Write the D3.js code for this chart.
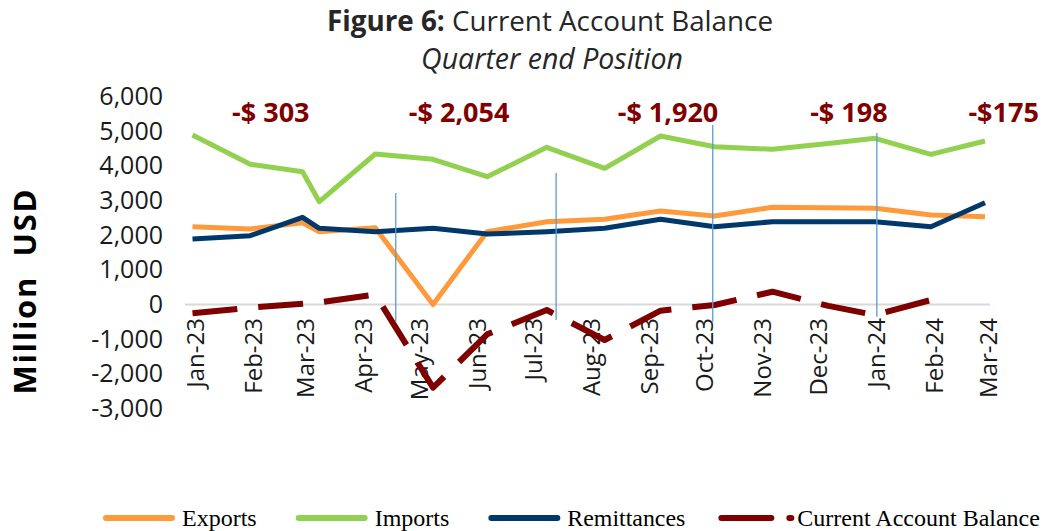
<!DOCTYPE html>
<html><head><meta charset="utf-8">
<script src="https://cdn.jsdelivr.net/npm/d3@7"></script>
<style>
html,body{margin:0;padding:0;background:#fff;}
svg{display:block;}
</style></head>
<body>
<svg id="chart" width="1047" height="531"></svg>
<script>
// ---------- data ----------
const dates = ["2023-01-01","2023-02-01","2023-03-01","2023-03-10","2023-04-09","2023-05-10","2023-06-08","2023-07-10","2023-08-10","2023-09-09","2023-10-08","2023-11-08","2023-12-08","2024-01-02","2024-02-01","2024-03-01"];
const exportsVals     = [2244, 2178, 2359, 2100, 2215,    0, 2100, 2388, 2457, 2697, 2553, 2804, 2792, 2775, 2581, 2533];
const importsVals     = [4889, 4044, 3830, 2965, 4341, 4188, 3686, 4534, 3928, 4860, 4551, 4477, 4644, 4794, 4332, 4716];
const remittanceVals  = [1889, 1984, 2515, 2198, 2100, 2198, 2033, 2100, 2198, 2457, 2244, 2388, 2388, 2388, 2244, 2936];
const cabVals         = [-254,  -92,   23,   63,  288, -2400, -860, -159, -1024, -179, -14,  369,  -40, -303,  130, null];
const seriesNames = ["Exports","Imports","Remittances","Current Account Balance"];
const yTicks = [6000,5000,4000,3000,2000,1000,0,-1000,-2000,-3000];
const quarterLabels = ["-$ 303","-$ 2,054","-$ 1,920","-$ 198","-$175"];
const quarterLabelDates = ["2023-02-12","2023-05-24","2023-09-13","2023-12-19","2024-03-11"];
const separatorDates = ["2023-04-20","2023-07-15","2023-10-07","2024-01-03"];
const separatorTop = [3216, 3793, 5178, 4946];
const separatorBottom = [-500, -450, -500, -350];

// ---------- setup ----------
const parse = d3.utcParse("%Y-%m-%d");
const svg = d3.select("#chart");
const x = d3.scaleUtc().domain([parse("2023-01-01"), parse("2024-03-01")]).range([192.5, 985]);
const y = d3.scaleLinear().domain([-3000, 6000]).range([408.5, 96.5]);

const colors = {Exports:"#FF9A3C", Imports:"#92D050", Remittances:"#00386B", CAB:"#7F0000"};
const axisFont = "'Open Sans', 'Noto Sans', sans-serif";

// title
const title = svg.append("text").attr("x", 550).attr("y", 31).attr("text-anchor","middle")
  .style("font-family", axisFont).style("font-size","27.8px").attr("fill","#262626");
title.append("tspan").attr("font-weight","bold").text("Figure 6:");
title.append("tspan").text(" Current Account Balance");
svg.append("text").attr("x", 552).attr("y", 69).attr("text-anchor","middle")
  .style("font-family", axisFont).style("font-size","28.5px").style("font-style","italic")
  .attr("fill","#262626").text("Quarter end Position");

// y axis (labels only)
const yAxis = d3.axisLeft(y).tickValues(yTicks).tickSize(0).tickPadding(0)
  .tickFormat(d3.format(",.0f"));
const yg = svg.append("g").attr("transform","translate(163,0)").call(yAxis);
yg.select(".domain").remove();
yg.selectAll("text").style("font-family", axisFont).style("font-size","25px").attr("fill","#1a1a1a")
  .text(d => d < 0 ? "-" + d3.format(",")(-d) : d3.format(",")(d));

// y title
svg.append("text").attr("transform","translate(36,292) rotate(-90)").attr("text-anchor","middle")
  .style("font-family", axisFont).style("font-size","31px").style("font-weight","bold")
  .attr("fill","#000").attr("xml:space","preserve")
  .attr("textLength", 205).attr("lengthAdjust","spacing").text("Million  USD");

// zero line
svg.append("line").attr("x1", 185).attr("x2", 990).attr("y1", y(0)).attr("y2", y(0))
  .attr("stroke","#d9d9d9").attr("stroke-width",2);

// x axis labels
const xAxis = d3.axisBottom(x).ticks(d3.utcMonth.every(1)).tickSize(0)
  .tickFormat(d3.utcFormat("%b-%y"));
const xg = svg.append("g").attr("transform","translate(0,318)").call(xAxis);
xg.select(".domain").remove();
xg.selectAll("text").attr("transform","rotate(-90)").attr("text-anchor","end")
  .attr("x", 0).attr("y", 3).attr("dy","0.35em")
  .style("font-family", axisFont).style("font-size","24px").attr("fill","#1a1a1a");

// lines
const pts = vals => vals.map((v,i) => ({d: parse(dates[i]), v}));
const line = d3.line().defined(p => p.v !== null).x(p => x(p.d)).y(p => y(p.v));

svg.append("path").datum(pts(importsVals)).attr("d", line).attr("fill","none")
  .attr("stroke", colors.Imports).attr("stroke-width",5).attr("stroke-linejoin","round");
svg.append("path").datum(pts(exportsVals)).attr("d", line).attr("fill","none")
  .attr("stroke", colors.Exports).attr("stroke-width",5).attr("stroke-linejoin","round");
svg.append("path").datum(pts(remittanceVals)).attr("d", line).attr("fill","none")
  .attr("stroke", colors.Remittances).attr("stroke-width",5).attr("stroke-linejoin","round");
svg.append("path").datum(pts(cabVals)).attr("d", line).attr("fill","none")
  .attr("stroke", colors.CAB).attr("stroke-width",6).attr("stroke-dasharray","45,21")
  .attr("stroke-linejoin","round");

// separators
separatorDates.forEach((d,i) => {
  svg.append("line").attr("x1", x(parse(d))).attr("x2", x(parse(d)))
    .attr("y1", y(separatorTop[i])).attr("y2", y(separatorBottom[i]))
    .attr("stroke","#5B9BD5").attr("stroke-width",1.3);
});

// quarter labels
quarterLabels.forEach((t,i) => {
  svg.append("text").attr("x", x(parse(quarterLabelDates[i]))).attr("y", 122)
    .attr("text-anchor","middle").style("font-family", axisFont).style("font-size","27px")
    .style("font-weight","bold").attr("fill","#800000").attr("xml:space","preserve").text(t);
});

// legend
const legendColors = [colors.Exports, colors.Imports, colors.Remittances, colors.CAB];
const legendGaps = [42, 42, 36, 0];
let lx = 106;
seriesNames.forEach((n,i) => {
  const isCab = i === 3;
  const len = isCab ? 70 : 66;
  svg.append("line").attr("x1", lx).attr("x2", lx + len).attr("y1", 518).attr("y2", 518)
    .attr("stroke", legendColors[i]).attr("stroke-width", 6).attr("stroke-linecap","round")
    .attr("stroke-dasharray", isCab ? "50,18" : null);
  const t = svg.append("text").attr("x", lx + len + (isCab ? 6 : 10)).attr("y", 526)
    .style("font-family","'Liberation Serif','Times New Roman',serif").style("font-size","24px")
    .attr("fill","#000").text(n);
  if (i === 2) t.attr("textLength", 118).attr("lengthAdjust","spacingAndGlyphs");
  lx = lx + len + 10 + t.node().getComputedTextLength() + legendGaps[i];
});
</script>
</body></html>
